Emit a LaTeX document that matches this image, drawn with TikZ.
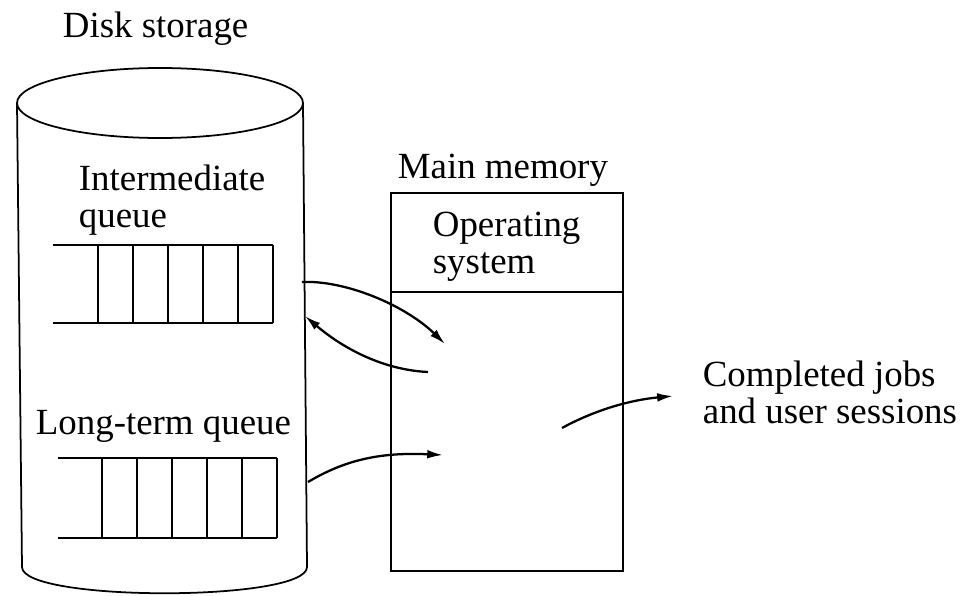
\documentclass[tikz,border=0pt]{standalone}
\usepackage{fontspec}
\setmainfont{Liberation Serif}
\usetikzlibrary{positioning, arrows.meta}

\tikzset{
    lbl/.style={font=\fontsize{21}{21}\selectfont, inner sep=0pt, anchor=base west, align=left},
    arr/.style={-{Latex[length=9pt, width=5pt]}, line width=1.3pt},
    qline/.style={line width=1pt}
}

\begin{document}
\begin{tikzpicture}[x=0.02cm, y=-0.02cm, line width=1pt]
    \useasboundingbox (0,0) rectangle (977,595);

    % disk storage
    \node[lbl] (disk) at (62,37) {Disk storage};
    \draw (160,103) ellipse (143 and 35);
    \draw (17,103) -- (22,567);
    \draw (303,103) -- (307,567);
    \draw (22,567) .. controls (22,602) and (307,602) .. (307,567);

    % intermediate queue
    \node[lbl] (iq) at (78,227) {Intermediate\\queue};
    \draw[qline] (53,245) -- (273,245) (53,323) -- (273,323);
    \foreach \x in {98,133,...,273}
        \draw[qline] (\x,245) -- (\x,323);

    % long-term queue
    \node[lbl] (lq) at (35,434) {Long-term queue};
    \draw[qline] (58,458) -- (277,458) (58,538) -- (277,538);
    \foreach \x in {102,137,...,277}
        \draw[qline] (\x,458) -- (\x,538);

    % main memory
    \node[lbl] (mm) at (397,178) {Main memory};
    \node[draw, minimum width=232*0.02cm, minimum height=378*0.02cm, inner sep=0pt, anchor=north west]
        (mem) at (390,192) {};
    \draw (mem.north west) ++(0,100) coordinate (osw) -- (osw -| mem.east);
    \node[lbl] (os) at (432,273) {Operating\\system};

    \node[lbl] (done) at (702,423) {Completed jobs\\and user sessions};

    % arrows
    \coordinate (a1s) at (302,282);
    \coordinate (a1e) at (445,344);
    \coordinate (a2s) at (428,372);
    \coordinate (a2e) at (305,316);
    \coordinate (a3s) at (308,482);
    \coordinate (a3e) at (443,455);
    \coordinate (a4s) at (562,428);
    \coordinate (a4e) at (673,396);
    \draw[arr] (a1s) .. controls (345,280) and (405,305) .. (a1e);
    \draw[arr] (a2s) .. controls (385,370) and (345,350) .. (a2e);
    \draw[arr] (a3s) .. controls (345,460) and (380,452) .. (a3e);
    \draw[arr] (a4s) .. controls (595,410) and (630,400) .. (a4e);
\end{tikzpicture}
\end{document}
